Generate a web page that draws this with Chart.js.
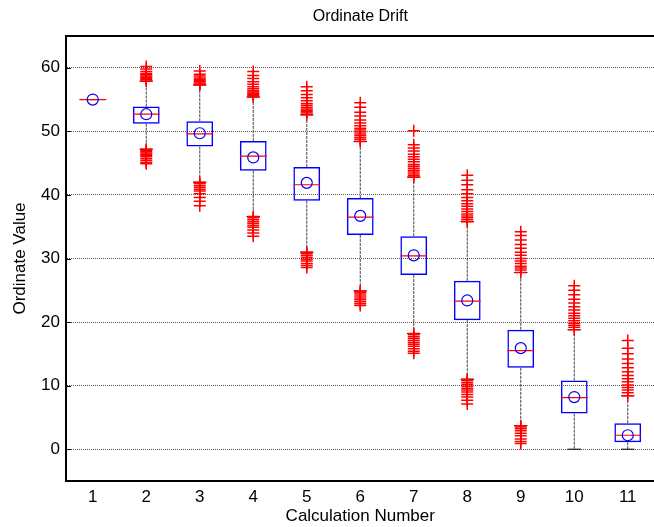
<!DOCTYPE html>
<html>
<head>
<meta charset="utf-8">
<title>Ordinate Drift</title>
<script src="https://cdn.jsdelivr.net/npm/chart.js@4.4.0/dist/chart.umd.min.js"></script>
<style>
  html, body { margin: 0; padding: 0; background: #fff; overflow: hidden; }
  #wrap { width: 662px; height: 527px; }
</style>
</head>
<body>
<div id="wrap"><canvas id="chart" width="662" height="527"></canvas></div>
<script>
// ---- data ----
const categories = [1, 2, 3, 4, 5, 6, 7, 8, 9, 10, 11];
const yTicks = [0, 10, 20, 30, 40, 50, 60];

const q1 = [55, 51.2, 47.6, 43.8, 39.1, 33.7, 27.4, 20.3, 12.8, 5.6, 1.1];
const q3 = [55, 53.9, 51.6, 48.5, 44.4, 39.5, 33.5, 26.5, 18.8, 10.8, 4.1];
const medians = [55, 52.7, 49.6, 46.1, 41.6, 36.5, 30.4, 23.3, 15.5, 8.1, 2.2];
const means = [55, 52.7, 49.7, 45.9, 41.9, 36.7, 30.5, 23.4, 15.9, 8.2, 2.2];
const whiskerLow = [55, 47.2, 42.0, 36.6, 31.0, 24.9, 18.2, 11.0, 3.7, 0, 0];
const whiskerHigh = [55, 57.9, 57.3, 55.4, 52.6, 48.4, 42.8, 35.8, 27.8, 18.8, 8.4];

const upperOutliers = [
  [],
  [60.2, 59.8, 59.4, 59.1, 58.9, 58.7, 58.5, 58.3, 58.1, 57.9],
  [59.5, 59.0, 58.7, 58.4, 58.2, 58.0, 57.8, 57.6, 57.4, 57.3],
  [59.4, 58.8, 58.3, 57.8, 57.4, 57.0, 56.7, 56.4, 56.2, 56.0, 55.8, 55.6, 55.4],
  [57.0, 56.4, 55.8, 55.3, 54.8, 54.4, 54.1, 53.8, 53.5, 53.3, 53.1, 52.9, 52.6],
  [54.5, 53.8, 53.0, 52.4, 51.8, 51.3, 50.9, 50.5, 50.2, 49.9, 49.6, 49.3, 49.0, 48.7, 48.4],
  [50.1, 47.9, 47.4, 46.9, 46.4, 46.0, 45.6, 45.2, 44.8, 44.5, 44.2, 43.9, 43.6, 43.3, 43.0, 42.8],
  [43.1, 42.3, 41.6, 40.8, 40.2, 39.6, 39.1, 38.6, 38.2, 37.8, 37.4, 37.0, 36.7, 36.4, 36.1, 35.8],
  [34.2, 33.6, 32.9, 32.2, 31.6, 31.0, 30.5, 30.0, 29.6, 29.2, 28.8, 28.5, 28.2, 27.8],
  [25.7, 25.0, 24.3, 23.6, 23.0, 22.4, 21.9, 21.4, 21.0, 20.6, 20.2, 19.8, 19.5, 19.2, 18.8],
  [17.1, 15.9, 15.0, 14.2, 13.5, 12.8, 12.2, 11.6, 11.1, 10.6, 10.1, 9.7, 9.3, 8.9, 8.4]
];
const lowerOutliers = [
  [],
  [47.2, 47.0, 46.8, 46.6, 46.4, 46.2, 46.0, 45.7, 45.4, 45.1, 44.9],
  [42.0, 41.8, 41.5, 41.2, 40.9, 40.6, 40.2, 39.6, 39.0, 38.3],
  [36.6, 36.4, 36.1, 35.8, 35.5, 35.2, 34.9, 34.5, 34.0, 33.5],
  [31.0, 30.8, 30.5, 30.2, 29.9, 29.6, 29.2, 28.9, 28.6],
  [24.9, 24.7, 24.4, 24.1, 23.8, 23.5, 23.2, 22.9, 22.6],
  [18.2, 18.0, 17.7, 17.4, 17.1, 16.8, 16.5, 16.2, 15.8, 15.4, 15.1],
  [11.0, 10.8, 10.5, 10.2, 9.9, 9.6, 9.3, 9.0, 8.6, 8.2, 7.7, 7.1],
  [3.7, 3.5, 3.2, 2.9, 2.5, 2.1, 1.6, 1.2, 0.9],
  [],
  []
];

// ---- build library data from the arrays ----
const halfBox = 0.25, halfCap = 0.125;

const boxData = categories.map((c, i) => ({ x: c, y: [q1[i], q3[i]] }));
const meanData = categories.map((c, i) => ({ x: c, y: means[i] }));

const medianData = [], capData = [], whiskerData = [], outlierData = [];
categories.forEach((c, i) => {
  medianData.push({ x: c - halfBox, y: medians[i] }, { x: c + halfBox, y: medians[i] }, { x: c, y: null });
  capData.push({ x: c - halfCap, y: whiskerHigh[i] }, { x: c + halfCap, y: whiskerHigh[i] }, { x: c, y: null });
  capData.push({ x: c - halfCap, y: whiskerLow[i] }, { x: c + halfCap, y: whiskerLow[i] }, { x: c, y: null });
  whiskerData.push({ x: c, y: q3[i] }, { x: c, y: whiskerHigh[i] }, { x: c, y: null });
  whiskerData.push({ x: c, y: q1[i] }, { x: c, y: whiskerLow[i] }, { x: c, y: null });
  upperOutliers[i].forEach(v => outlierData.push({ x: c, y: v }));
  lowerOutliers[i].forEach(v => outlierData.push({ x: c, y: v }));
});

// top border + inward ticks on the left axis
const frame = {
  id: 'frame',
  afterDraw(chart) {
    const { ctx, chartArea: a, scales: { y } } = chart;
    ctx.save();
    ctx.strokeStyle = '#000';
    ctx.lineWidth = 2;
    ctx.beginPath();
    ctx.moveTo(a.left - 1, a.top);
    ctx.lineTo(a.right, a.top);
    ctx.stroke();
    ctx.lineWidth = 1;
    ctx.beginPath();
    yTicks.forEach(v => {
      const py = Math.round(y.getPixelForValue(v)) + 0.5;
      ctx.moveTo(a.left, py);
      ctx.lineTo(a.left + 5, py);
    });
    ctx.stroke();
    ctx.restore();
  }
};

Chart.defaults.font.family = '"Liberation Sans", Arial, Helvetica, sans-serif';
Chart.defaults.color = '#000';

new Chart(document.getElementById('chart'), {
  type: 'scatter',
  data: {
    datasets: [
      {
        type: 'scatter', label: 'mean', data: meanData, order: 0,
        pointStyle: 'circle', pointRadius: 5.5, pointBorderWidth: 1.2,
        pointBorderColor: '#0000ff', pointBackgroundColor: 'rgba(0,0,0,0)'
      },
      {
        type: 'scatter', label: 'outliers', data: outlierData, order: 1,
        pointStyle: 'cross', pointRadius: 6, pointBorderWidth: 1.5,
        pointBorderColor: '#ff0000', pointBackgroundColor: '#ff0000'
      },
      {
        type: 'line', label: 'median', data: medianData, order: 2,
        borderColor: '#ff0000', borderWidth: 1.2, pointRadius: 0, spanGaps: false, fill: false
      },
      {
        type: 'bar', label: 'box', data: boxData, order: 3,
        borderColor: '#0000ff', borderWidth: 1.5, backgroundColor: 'rgba(0,0,0,0)',
        borderSkipped: false, barPercentage: 0.5, categoryPercentage: 1
      },
      {
        type: 'line', label: 'caps', data: capData, order: 4,
        borderColor: '#000', borderWidth: 1, pointRadius: 0, spanGaps: false, fill: false
      },
      {
        type: 'line', label: 'whiskers', data: whiskerData, order: 5,
        borderColor: '#444', borderWidth: 1, borderDash: [3, 1], pointRadius: 0, spanGaps: false, fill: false
      }
    ]
  },
  options: {
    responsive: false,
    animation: false,
    layout: { padding: { left: 0, right: 1, top: 0, bottom: 0 } },
    plugins: {
      legend: { display: false },
      tooltip: { enabled: false },
      title: {
        display: true, text: 'Ordinate Drift', color: '#000', fullSize: false,
        font: { size: 16, weight: 'normal' }, padding: { top: 6.5, bottom: 10.3 }
      }
    },
    scales: {
      x: {
        type: 'linear', min: 0.5, max: 11.5, offset: false,
        afterBuildTicks: s => { s.ticks = categories.map(v => ({ value: v })); },
        afterFit: s => { s.height = 46; },
        grid: { display: false, drawTicks: false },
        border: { display: true, color: '#000', width: 2 },
        ticks: { font: { size: 17 }, padding: 6, color: '#000', maxRotation: 0 },
        title: { display: true, text: 'Calculation Number', font: { size: 17 }, padding: { top: 0, bottom: 0 }, color: '#000' }
      },
      y: {
        type: 'linear', min: -5, max: 65,
        afterBuildTicks: s => { s.ticks = yTicks.map(v => ({ value: v })); },
        afterFit: s => { s.width = 66; },
        grid: { display: true, drawTicks: false, color: '#555', lineWidth: 1 },
        border: { display: true, color: '#000', width: 2, dash: [1, 1] },
        ticks: { font: { size: 17 }, padding: 6, color: '#000' },
        title: { display: true, text: 'Ordinate Value', font: { size: 17 }, padding: { top: 10, bottom: 0 }, color: '#000' }
      }
    }
  },
  plugins: [frame]
});
</script>
</body>
</html>
